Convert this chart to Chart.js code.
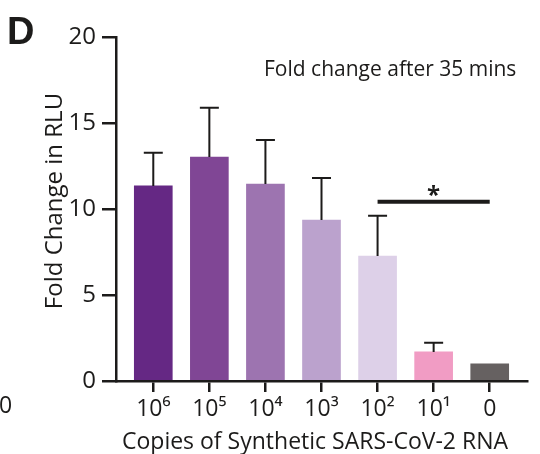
<!DOCTYPE html>
<html>
<head>
<meta charset="utf-8">
<script src="https://cdn.jsdelivr.net/npm/chart.js@4"></script>
<style>
  html, body { margin: 0; padding: 0; background: #ffffff; }
  #wrap { width: 540px; height: 454px; position: relative; }
</style>
</head>
<body>
<div id="wrap"><canvas id="c" width="540" height="454"></canvas></div>
<script>
const categories = ['10\u2076', '10\u2075', '10\u2074', '10\u00B3', '10\u00B2', '10\u00B9', '0'];
const means = [11.34, 13.02, 11.45, 9.36, 7.27, 1.69, 1.0];
const sdUpper = [1.93, 2.87, 2.56, 2.44, 2.34, 0.54, 0];
const barColors = ['#652884', '#804695', '#9d74b0', '#bba2cd', '#ddd0e8', '#f19cc4', '#666161'];
const yTicks = [0, 5, 10, 15, 20];
const sigFrom = 4, sigTo = 6, sigLevel = 10.42, sigLabel = '*';
const panelLetter = 'D';
const annotation = 'Fold change after 35 mins';
const xTitle = 'Copies of Synthetic SARS-CoV-2 RNA';
const yTitle = 'Fold Change in RLU';
const strayLabel = '0';

const INK = '#1c1b1a';
const FONT = "'Open Sans', 'Noto Sans', sans-serif";

const extras = {
  id: 'extras',
  afterDatasetsDraw(chart) {
    const ctx = chart.ctx;
    const xs = chart.scales.x, ys = chart.scales.y;
    ctx.save();
    ctx.strokeStyle = INK;
    ctx.lineWidth = 2;
    ctx.lineCap = 'butt';
    means.forEach((m, i) => {
      const e = sdUpper[i];
      if (!e) return;
      const x = xs.getPixelForValue(i);
      const y0 = ys.getPixelForValue(m);
      const y1 = ys.getPixelForValue(m + e);
      ctx.beginPath();
      ctx.moveTo(x, y0);
      ctx.lineTo(x, y1);
      ctx.moveTo(x - 9.5, y1);
      ctx.lineTo(x + 9.5, y1);
      ctx.stroke();
    });
    const sx0 = xs.getPixelForValue(sigFrom), sx1 = xs.getPixelForValue(sigTo);
    const sy = ys.getPixelForValue(sigLevel);
    ctx.lineWidth = 4;
    ctx.beginPath();
    ctx.moveTo(sx0, sy);
    ctx.lineTo(sx1, sy);
    ctx.stroke();
    ctx.fillStyle = INK;
    ctx.font = "bold 24px " + FONT;
    ctx.textAlign = 'center';
    ctx.textBaseline = 'alphabetic';
    ctx.fillText(sigLabel, (sx0 + sx1) / 2, sy + 1);
    ctx.restore();
  },
  afterDraw(chart) {
    const ctx = chart.ctx;
    ctx.save();
    ctx.fillStyle = INK;
    ctx.textBaseline = 'alphabetic';
    ctx.font = "bold 38px 'Liberation Sans', Arial, sans-serif";
    ctx.textAlign = 'left';
    ctx.fillText(panelLetter, 7, 44);
    ctx.font = "21px " + FONT;
    ctx.fillText(annotation, 264, 76);
    ctx.font = "23px " + FONT;
    ctx.fillText(strayLabel, -1, 413);
    ctx.textAlign = 'center';
    ctx.fillText(xTitle, 315, 449);
    ctx.translate(62, 201);
    ctx.rotate(-Math.PI / 2);
    ctx.font = "24px " + FONT;
    ctx.fillText(yTitle, 0, 0);
    ctx.restore();
  }
};

new Chart(document.getElementById('c'), {
  type: 'bar',
  data: {
    datasets: [{
      data: means.map((v, i) => ({ x: i, y: v })),
      backgroundColor: barColors,
      borderWidth: 0,
      barThickness: 38
    }]
  },
  options: {
    responsive: false,
    animation: false,
    devicePixelRatio: 1,
    layout: { padding: { left: 0, top: 37, right: 13, bottom: 0 } },
    plugins: { legend: { display: false }, tooltip: { enabled: false } },
    scales: {
      x: {
        type: 'linear',
        offset: false,
        min: -0.665,
        max: 6.665,
        afterFit: s => { s.height = 73; },
        afterBuildTicks: s => { s.ticks = categories.map((_, i) => ({ value: i })); },
        grid: { offset: false, drawOnChartArea: false, drawTicks: true, tickLength: 11, lineWidth: 2.5, color: INK },
        border: { display: true, width: 2.5, color: INK },
        ticks: {
          autoSkip: false,
          maxRotation: 0,
          padding: 4,
          color: INK,
          font: { family: FONT, size: 23 },
          callback: v => categories[v]
        }
      },
      y: {
        min: 0,
        max: 20,
        afterFit: s => { s.width = 116; },
        afterBuildTicks: s => { s.ticks = yTicks.map(v => ({ value: v })); },
        grid: { drawOnChartArea: false, drawTicks: true, tickLength: 14, lineWidth: 2.5, color: INK },
        border: { display: true, width: 2.5, color: INK },
        ticks: {
          padding: 6,
          color: INK,
          font: { family: FONT, size: 24 }
        }
      }
    }
  },
  plugins: [extras]
});
</script>
</body>
</html>
